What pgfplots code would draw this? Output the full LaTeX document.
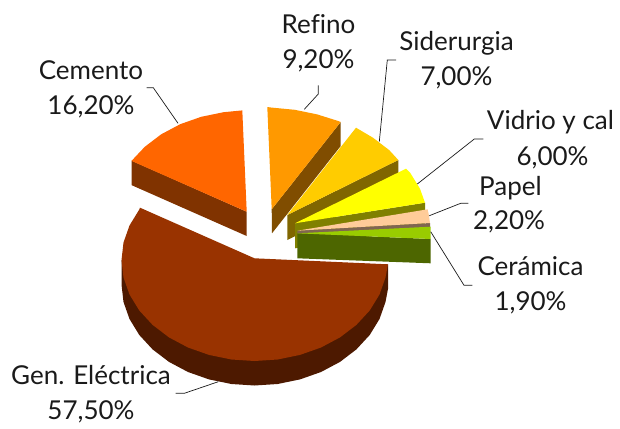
\documentclass[border=0pt]{standalone}
\usepackage{pgfplots}
\pgfplotsset{compat=1.18}
\usepackage{fontspec}
\setmainfont{Lato}[Ligatures=NoCommon]
\definecolor{cA}{HTML}{993300}\definecolor{sA}{HTML}{4D1900}
\definecolor{cB}{HTML}{FF6600}\definecolor{sB}{HTML}{803300}
\definecolor{cC}{HTML}{FF9900}\definecolor{sC}{HTML}{804D00}
\definecolor{cD}{HTML}{FFCC00}\definecolor{sD}{HTML}{806600}
\definecolor{cE}{HTML}{FFFF00}\definecolor{sE}{HTML}{808000}
\definecolor{cF}{HTML}{FFCC99}\definecolor{sF}{HTML}{806650}
\definecolor{cG}{HTML}{99CC00}\definecolor{sG}{HTML}{4D6600}
\definecolor{ink}{HTML}{1A1A1A}
\tikzset{lab/.style={anchor=base,inner sep=0pt,text=ink,font=\fontsize{26}{26}\selectfont}}
\begin{document}
\begin{tikzpicture}
\path[use as bounding box] (0,0) rectangle (620pt,428pt);
\begin{axis}[width=620pt,height=428pt,scale only axis,hide axis,clip=false,
  xmin=0,xmax=620,ymin=0,ymax=428,y dir=reverse,
  every axis plot/.append style={draw=none,no markers}]
% Gen. Electrica
\addplot[fill=sA] coordinates {(388,264.3)(388,288.8)(385.5,302)(379.5,319)(369.7,335)(356.4,349.4)(340,361.9)(321,372)(300,379.4)(277.6,384)(254.5,385.5)(231.4,384)(209,379.4)(188,372)(169,361.9)(152.6,349.4)(139.3,335)(129.5,319)(123.5,302)(121.5,284.5)(121.5,260)} -- cycle;
\addplot[fill=cA] coordinates {(254.5,258.3)(388,264.3)(385.5,277.5)(379.5,294.5)(369.7,310.5)(356.4,324.9)(340,337.4)(321,347.5)(300,354.9)(277.6,359.5)(254.5,361)(231.4,359.5)(209,354.9)(188,347.5)(169,337.4)(152.6,324.9)(139.3,310.5)(129.5,294.5)(123.5,277.5)(121.5,260)(123.5,242.5)(129.5,225.5)(139.3,209.5)(140,207.7)} -- cycle;
% Cemento
\addplot[fill=sB] coordinates {(246.7,211.7)(246.7,236)(131.7,185.2)(131.7,160.7)} -- cycle;
\addplot[fill=cB] coordinates {(246.7,211.7)(131.5,160.9)(144.8,146.8)(161.2,134.3)(180.2,124.2)(201.2,116.8)(223.6,112.2)(242.3,110.4)} -- cycle;
% Refino
\addplot[fill=sC] coordinates {(271.7,209.3)(272,233.3)(340.7,146)(340.7,122)} -- cycle;
\addplot[fill=cC] coordinates {(271.7,209.3)(267.3,107)(271.7,107.6)(294.8,109.8)(317.2,114.4)(338.2,121)(340.7,122)} -- cycle;
% Siderurgia
\addplot[fill=sD] coordinates {(287.3,215)(287.3,240)(398.3,185)(398.3,160)} -- cycle;
\addplot[fill=cD] coordinates {(287.3,215)(356,127.7)(372.8,137.6)(389.2,150.1)(398.3,160)} -- cycle;
% Vidrio y cal
\addplot[fill=sE] coordinates {(295,223.3)(295,248.3)(425,228)(425,202.7)} -- cycle;
\addplot[fill=cE] coordinates {(295,223.3)(406,168.7)(410.2,172.8)(420,188.8)(425,202.7)} -- cycle;
% Papel
\addplot[fill=sF] coordinates {(297.3,230.7)(297.3,234)(430,227.5)(430,223)} -- cycle;
\addplot[fill=cF] coordinates {(297.3,230.7)(427.7,209.3)(428.8,215)(430,223)} -- cycle;
% Ceramica
\addplot[fill=sG] coordinates {(297.3,233.3)(297.3,258.3)(430.7,263.3)(430.7,239)} -- cycle;
\addplot[fill=cG] coordinates {(297.3,233.3)(430.5,226.7)(430.7,239)} -- cycle;
% leaders
\addplot[draw=ink,line width=0.7pt] coordinates {(146.7,87.7)(153.3,87.7)(178,123.3)};
\addplot[draw=ink,line width=0.7pt] coordinates {(318.3,85.3)(318.3,94)(304.3,109.3)};
\addplot[draw=ink,line width=0.7pt] coordinates {(396,60)(387.3,60)(379.3,141.7)};
\addplot[draw=ink,line width=0.7pt] coordinates {(483.3,139)(474.3,139)(417.3,184)};
\addplot[draw=ink,line width=0.7pt] coordinates {(468.3,203.3)(460.7,203.3)(429.3,215.7)};
\addplot[draw=ink,line width=0.7pt] coordinates {(472.3,285.3)(464,285.3)(430.7,231.7)};
\addplot[draw=ink,line width=0.7pt] coordinates {(175.7,393.3)(184.3,393.3)(218.3,381.7)};
% labels
\node[lab] at (axis cs:91,79.3) {Cemento};
\node[lab] at (axis cs:91,114) {16,20\%};
\node[lab] at (axis cs:318.5,33.3) {Refino};
\node[lab] at (axis cs:318.5,68.3) {9,20\%};
\node[lab] at (axis cs:456.5,50) {Siderurgia};
\node[lab] at (axis cs:456.5,85) {7,00\%};
\node[lab] at (axis cs:550.5,129) {Vidrio y cal};
\node[lab] at (axis cs:552.5,165) {6,00\%};
\node[lab] at (axis cs:510.5,195) {Papel};
\node[lab] at (axis cs:509,229.3) {2,20\%};
\node[lab] at (axis cs:530.5,275.7) {Cerámica};
\node[lab] at (axis cs:530.5,310.7) {1,90\%};
\node[lab] at (axis cs:91,384.3) {Gen. Eléctrica};
\node[lab] at (axis cs:91,419) {57,50\%};
\end{axis}
\end{tikzpicture}
\end{document}
